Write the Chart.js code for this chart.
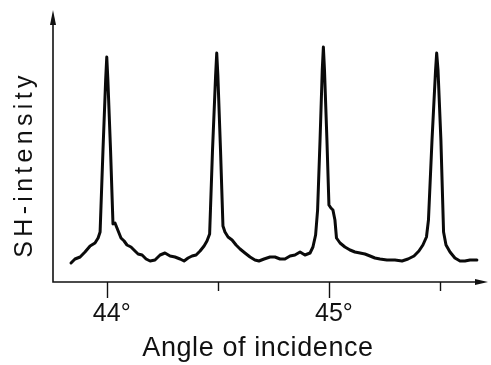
<!DOCTYPE html>
<html>
<head>
<meta charset="utf-8">
<script src="https://cdn.jsdelivr.net/npm/chart.js@4"></script>
<style>
  html, body { margin: 0; padding: 0; background: #fff; }
  canvas { display: block; }
</style>
</head>
<body>
<canvas id="c" width="491" height="365"></canvas>
<script>
// Angle of incidence (degrees)
const angles = [
  43.839, 43.857, 43.880, 43.902, 43.925, 43.947, 43.961, 43.970, 43.983, 43.995,
  44.000, 44.005, 44.017, 44.028, 44.037, 44.046, 44.055, 44.064, 44.078, 44.091,
  44.109, 44.127, 44.141, 44.159, 44.177, 44.195, 44.217, 44.240, 44.262, 44.285,
  44.307, 44.330, 44.348, 44.366, 44.384, 44.402, 44.420, 44.438, 44.451, 44.463,
  44.476, 44.490, 44.495, 44.500, 44.512, 44.523, 44.532, 44.546, 44.564, 44.582,
  44.600, 44.622, 44.645, 44.667, 44.685, 44.708, 44.735, 44.757, 44.780, 44.802,
  44.825, 44.847, 44.870, 44.892, 44.915, 44.928, 44.940, 44.949, 44.960, 44.970,
  44.975, 44.980, 44.991, 45.000, 45.009, 45.018, 45.027, 45.034, 45.050, 45.072,
  45.095, 45.117, 45.140, 45.162, 45.185, 45.207, 45.230, 45.261, 45.297, 45.329,
  45.356, 45.383, 45.405, 45.423, 45.439, 45.448, 45.464, 45.480, 45.485, 45.491,
  45.504, 45.516, 45.527, 45.545, 45.567, 45.590, 45.612, 45.635, 45.666
];
// SH-intensity (arbitrary units)
const intensity = [
  19, 23, 25, 30, 36, 39, 44, 50, 132, 202,
  225, 202, 132, 58, 59, 54, 49, 44, 41, 37,
  35, 31, 28, 27, 23, 21, 22, 27, 29, 26,
  25, 23, 21, 24, 26, 27, 31, 36, 41, 48,
  132, 207, 229, 207, 132, 56, 50, 45, 42, 37,
  33, 29, 25, 22, 21, 23, 25, 25, 23, 23,
  26, 27, 30, 27, 29, 35, 47, 72, 142, 212,
  235, 212, 142, 77, 74, 72, 62, 44, 39, 35,
  32, 30, 29, 28, 26, 24, 23, 22, 22, 21,
  23, 26, 31, 37, 45, 62, 142, 212, 229, 212,
  142, 50, 37, 30, 24, 21, 21, 22, 22
];
const tickValues = [44, 44.5, 45, 45.5];
const tickLabels = ['44', '', '45', ''];
const tickMajor = [true, false, true, false];
const xTitle = 'Angle of incidence';
const yTitle = 'SH-intensity';

const FONT = '"Liberation Sans", Arial, sans-serif';

const axesPlugin = {
  id: 'axesPlugin',
  beforeDatasetsDraw(chart) {
    const ctx = chart.ctx;
    const a = chart.chartArea;
    const xs = chart.scales.x;
    ctx.save();
    ctx.strokeStyle = '#111';
    ctx.fillStyle = '#111';
    ctx.lineWidth = 1.6;
    ctx.beginPath();
    ctx.moveTo(a.left, a.top + 8);
    ctx.lineTo(a.left, a.bottom);
    ctx.lineTo(a.right - 8, a.bottom);
    ctx.stroke();
    // arrow heads
    ctx.beginPath();
    ctx.moveTo(a.left, a.top - 2);
    ctx.lineTo(a.left - 3, a.top + 13);
    ctx.lineTo(a.left + 3, a.top + 13);
    ctx.closePath();
    ctx.fill();
    ctx.beginPath();
    ctx.moveTo(a.right, a.bottom);
    ctx.lineTo(a.right - 13, a.bottom - 3);
    ctx.lineTo(a.right - 13, a.bottom + 3);
    ctx.closePath();
    ctx.fill();
    // ticks
    ctx.lineWidth = 1.4;
    tickValues.forEach((v, i) => {
      const px = Math.round(xs.getPixelForValue(v)) + 0.5;
      ctx.beginPath();
      ctx.moveTo(px, a.bottom);
      ctx.lineTo(px, a.bottom + (tickMajor[i] ? 16 : 9));
      ctx.stroke();
    });
    // tick labels
    ctx.font = '25px ' + FONT;
    ctx.textBaseline = 'alphabetic';
    ctx.textAlign = 'left';
    tickValues.forEach((v, i) => {
      if (!tickLabels[i]) return;
      const px = xs.getPixelForValue(v);
      const w = ctx.measureText(tickLabels[i]).width;
      ctx.fillText(tickLabels[i] + '°', px - w / 2, 321);
    });
    // x title
    ctx.font = '27px ' + FONT;
    ctx.textAlign = 'center';
    try { ctx.letterSpacing = '0.6px'; } catch (e) {}
    ctx.fillText(xTitle, 258, 356);
    // y title
    ctx.save();
    ctx.translate(31.5, 164.5);
    ctx.rotate(-Math.PI / 2);
    ctx.font = '25px ' + FONT;
    try { ctx.letterSpacing = '4.3px'; } catch (e) {}
    ctx.textAlign = 'center';
    ctx.fillText(yTitle, 0, 0);
    ctx.restore();
    ctx.restore();
  }
};

new Chart(document.getElementById('c'), {
  type: 'line',
  data: {
    datasets: [{
      data: angles.map((a, i) => ({ x: a, y: intensity[i] })),
      borderColor: '#0a0a0a',
      borderWidth: 3,
      borderJoinStyle: 'round',
      borderCapStyle: 'round',
      pointRadius: 0,
      tension: 0,
      fill: false
    }]
  },
  options: {
    responsive: false,
    animation: false,
    events: [],
    layout: { padding: { left: 53, top: 12, right: 3, bottom: 83 } },
    scales: {
      x: { type: 'linear', min: 43.758, max: 45.716, display: false },
      y: { min: 0, max: 270, display: false }
    },
    plugins: { legend: { display: false }, tooltip: { enabled: false } }
  },
  plugins: [axesPlugin]
});
</script>
</body>
</html>
